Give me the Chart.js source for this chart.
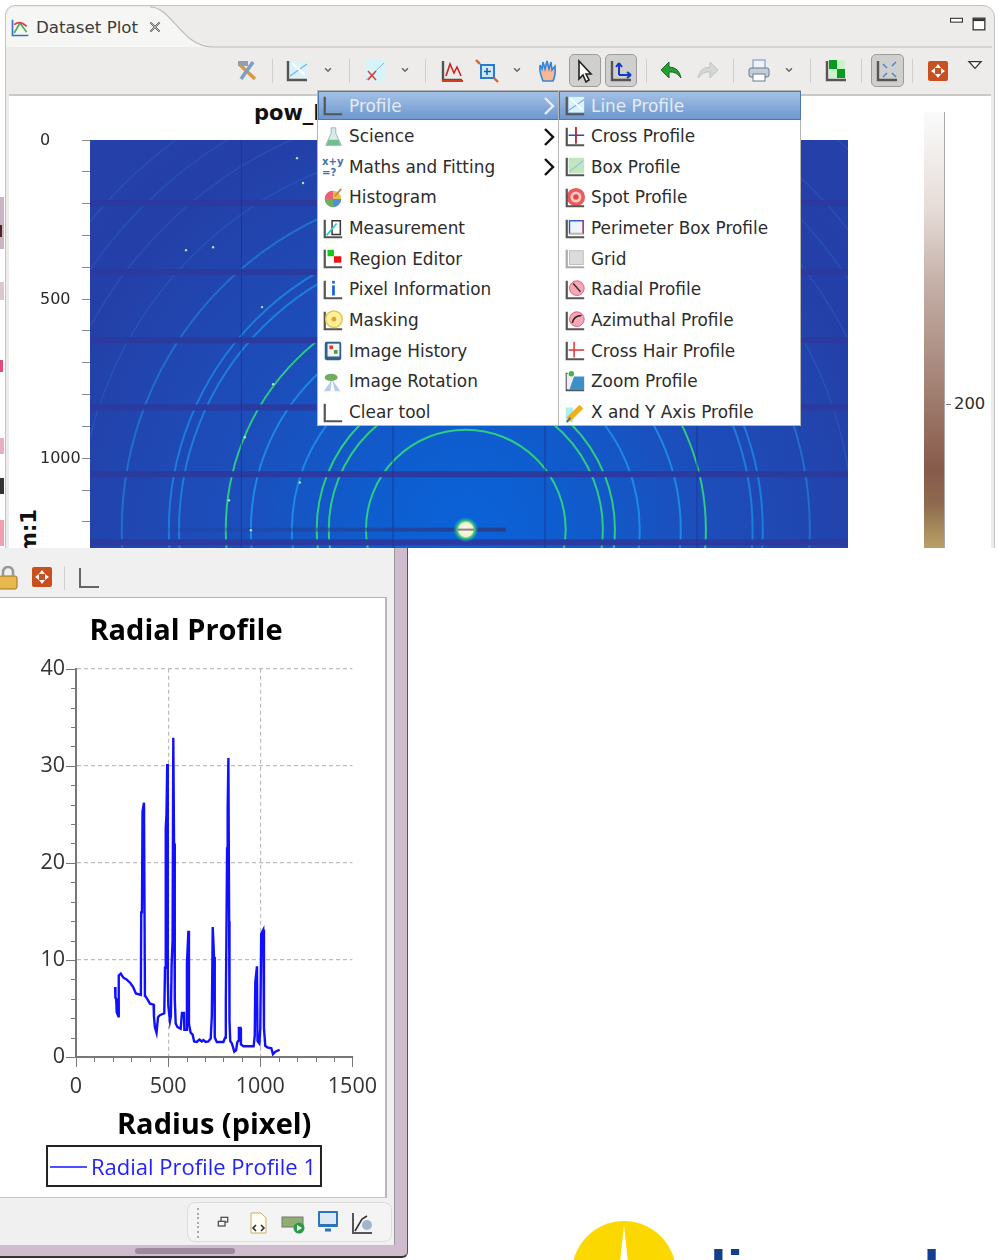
<!DOCTYPE html>
<html>
<head>
<meta charset="utf-8">
<title>Dataset Plot</title>
<script src="https://cdn.jsdelivr.net/npm/chart.js@4"></script>
<style>
html, body { margin: 0; padding: 0; background: #fff; }
#page { position: relative; width: 999px; height: 1260px; overflow: hidden; background: #fff; font-family: "DejaVu Sans", sans-serif; color: #2c2c2c; filter: blur(0.4px); }
#page div, #page svg, #page canvas, #page span { position: absolute; }
.txt { white-space: nowrap; line-height: 20px; font-size: 16.9px; }
#topWin { left: 0; top: 0; width: 999px; height: 548px; overflow: hidden; }
#frame { left: 5px; top: 5px; width: 988px; height: 600px; background: #edecea; border: 1px solid #c4c4c2; border-radius: 10px 12px 0 0; }
#plotBg { left: 9px; top: 94px; width: 982px; height: 470px; background: #fff; border-top: 2px solid #c9c8c5; }
#heatCanvasBox { left: 40px; top: 112px; width: 808px; height: 449px; }
#colorBar { left: 924px; top: 112px; width: 20px; height: 436px; border-right: 1px solid #aaa; box-sizing: content-box;
  background: linear-gradient(#fbfbfb 0%, #e6dcd8 22%, #c4aea6 40%, #a58376 62%, #875a4a 82%, #8f6a4e 90%, #a88c5e 96%, #bba065 100%); }
#menu { left: 317px; top: 90px; width: 484px; height: 336px; background: #fff; border: 1px solid #b5b5b5; box-sizing: border-box; }
.hl { top: 0; height: 29px; background: linear-gradient(#a4c1e6, #6e98ce); border: 1px solid #4f78ac; box-sizing: border-box; }
#botWin { left: 0; top: 548px; width: 408px; height: 710px; background: #cfbccf; border-right: 1px solid #555; border-bottom: 2px solid #333; border-radius: 0 0 6px 0; box-sizing: border-box; overflow: hidden; }
#botInner { left: -2px; top: 0; width: 396px; height: 697px; background: #f0f0f0; border-right: 1px solid #999; }
#botPlot { left: 0; top: 49px; width: 387px; height: 601px; background: #fff; border-top: 1px solid #b0b0b0; border-bottom: 1px solid #c8c8c8; border-right: 2px solid #b8b8b8; box-sizing: border-box; }
#statusBox { left: 187px; top: 654px; width: 205px; height: 40px; border: 1px solid #dcdcdc; border-radius: 8px; background: #f4f4f4; box-sizing: border-box; }
#radialBox { left: 5px; top: 597px; width: 389px; height: 598px; }
</style>
</head>
<body>
<div id="page">
  <div id="topWin">
    <div id="frame"></div>
    <svg style="left:0;top:0" width="999" height="100">
      <path d="M6 47V20Q6 7 18 7H150C172 7 182 47 212 47H6Z" fill="#f6f6f5" stroke="none"/>
      <path d="M150 7C172 7 182 47 212 47H992" fill="none" stroke="#bdbcb8" stroke-width="1.2"/>
    </svg>
    <div id="plotBg"></div>
    <div class="txt" style="left:36px;top:17px;color:#3c3c3c;font-size:16.7px">Dataset Plot</div>
    <div class="txt" style="left:254px;top:101px;font-weight:bold;font-size:21px;line-height:24px;color:#111">pow_M</div>
    <div class="txt" style="left:17px;top:510px;font-weight:bold;font-size:21px;line-height:24px;color:#111;transform-origin:0 0;transform:rotate(-90deg) translate(-44px,0)">m:1</div>
    <div id="heatCanvasBox"><canvas id="heatChart" width="808" height="449"></canvas></div>
    <div id="colorBar"></div>
    <div style="left:946px;top:404px;width:5px;height:1px;background:#777"></div>
    <div class="txt" style="left:954px;top:394px;font-size:16.4px">200</div>
    <div id="topIcons"></div>
    <div id="menu"></div>
    <div id="strip"></div>
  </div>
  <div id="botWin">
    <div id="botInner"></div>
    <div id="botPlot"></div>
    <div id="statusBox"></div>
    <div id="botIcons"></div>
    <div style="left:135px;top:700px;width:100px;height:6px;background:#9b8a9d;border-radius:3px"></div>
  </div>
  <div id="radialBox"><canvas id="radialChart" width="389" height="598"></canvas></div>
  <svg style="left:560px;top:1210px" width="130" height="50">
    <circle cx="64" cy="63" r="52" fill="#fbd900"/>
    <path d="M64 16L68 52H60Z" fill="#fff"/>
  </svg>
  <div style="left:690px;top:1242px;font:bold 60px/60px 'Liberation Sans',sans-serif;color:#123f8e">diamond</div>
</div>

<script>
// radial profile
const radius = [212,214,218,221,230,232,243,256,274,296,310,325,352,354,358,361,369,374,376,392,401,421,423,428,437,445,455,479,483,487,491,495,498,501,510,515,519,524,528,532,536,541,550,568,575,586,588,597,602,610,613,622,633,641,655,670,682,691,704,718,731,737,742,749,753,764,800,809,813,816,820,823,827,831,833,837,846,859,869,875,882,884,893,895,909,964,970,973,982,985,995,1000,1005,1016,1020,1027,1038,1060,1069,1082,1105];
const intensity = [7.2,6.1,6.0,4.6,4.2,8.4,8.6,8.2,8.0,7.6,7.2,6.55,6.4,14.9,15,25.3,26.2,6.3,6.3,5.8,5.5,5.4,4.2,3.1,2.5,4.1,4.3,4.5,9.2,23.6,25,30.2,8,5.3,3.7,4.2,9.6,12,32.9,22,6,3.45,3.1,2.9,4.55,4.55,2.8,2.8,9.6,13,3.4,2.5,2.3,1.6,1.55,1.8,1.6,1.75,1.55,1.6,1.9,4.2,13.4,10.3,2,1.55,1.55,2,5.4,12,21.5,25.5,30.8,14,3.7,1.65,1.4,0.55,0.7,1.5,1.7,3,3,1.3,1.1,1.1,2.2,7.7,9.35,1.65,1.4,2.9,12.7,13.1,3,1.15,1,0.9,0.3,0.55,0.75];
const seriesName = 'Radial Profile Profile 1';
const radialTitle = 'Radial Profile';
const radialXTitle = 'Radius (pixel)';

// detector image, all in detector pixels
const beamX = 1182;
const beamY = 1224;
const ringRadii = [314,431,469,547,676,755,902,934,1082,1217,1343,1437,1528,1695];
const ringColors = ['#2fd27c','#2fd27c','#2fd27c','#1f8bea','#1f8bea','#2fcf80','#1c7fe0','#1c7fe0','#2270d2','#2a66c8','#2a62c4','#2a62c4','#2a62c4','#2a5fc0'];
const gapRows = [198,415,629,840,1050,1264];
const seamCols = [476,953,1431,1909];
const spotX = [651,670,302,387,541,576,487,437,660,506];
const spotY = [57,135,346,337,525,767,934,1132,1076,1226];

const menuLeft = ['Profile','Science','Maths and Fitting','Histogram','Measurement','Region Editor','Pixel Information','Masking','Image History','Image Rotation','Clear tool'];
const menuRight = ['Line Profile','Cross Profile','Box Profile','Spot Profile','Perimeter Box Profile','Grid','Radial Profile','Azimuthal Profile','Cross Hair Profile','Zoom Profile','X and Y Axis Profile'];

// chrome icons, just rough little svgs
const L = '<path d="M3 2V21H22" fill="none" stroke="#555" stroke-width="2.4"/>';
function icon(parent, cx, cy, inner, size) {
  size = size || 24;
  const host = document.getElementById(parent);
  const s = document.createElementNS('http://www.w3.org/2000/svg', 'svg');
  s.setAttribute('width', size); s.setAttribute('height', size); s.setAttribute('viewBox', '0 0 24 24');
  s.style.left = (cx - size / 2) + 'px'; s.style.top = (cy - size / 2) + 'px';
  s.innerHTML = inner;
  host.appendChild(s);
}
function chev(parent, x, y) { icon(parent, x, y, '<path d="M7 9L12 14L17 9" fill="none" stroke="#666" stroke-width="2.6"/>', 14); }
function sep(parent, x, y) {
  const d = document.createElement('div');
  d.style.cssText = 'left:' + x + 'px;top:' + y + 'px;width:1px;height:24px;background:#cfcfcc';
  document.getElementById(parent).appendChild(d);
}
function pressed(x0, x1) {
  const d = document.createElement('div');
  d.style.cssText = 'left:' + x0 + 'px;top:54px;width:' + (x1 - x0) + 'px;height:33px;background:#cfcfcd;border:1px solid #9c9c9a;border-radius:5px;box-sizing:border-box';
  document.getElementById('topIcons').appendChild(d);
}
const lineIcon = L + '<rect x="5" y="2" width="17" height="17" fill="#d8f4fb"/><path d="M5 17L22 5" stroke="#8fa8e8" stroke-width="1.4"/><path d="M7 4L20 16" stroke="#fff" stroke-width="2"/>';
const crossIcon = L + '<path d="M13 1V19M5 10H22" stroke="#2848c8" stroke-width="1.6"/><path d="M13 1V19" stroke="#dd2222" stroke-width="1.8"/>';
const boxIcon = L + '<rect x="5" y="2" width="17" height="17" fill="#bfe6bf"/><path d="M6 17L21 5" stroke="#8fa8e8"/>';
const spotIcon = '<circle cx="13" cy="11" r="10" fill="#e85c5c"/><circle cx="13" cy="11" r="6" fill="#f8c8c8"/><circle cx="13" cy="11" r="3" fill="#e04848"/>' + L;
const perimIcon = L + '<rect x="6" y="3" width="15" height="14" fill="#eef4fb" stroke="#2b56c8" stroke-width="1.5"/><path d="M21 3V17" stroke="#dd3333" stroke-width="1.5"/><path d="M6 17H21" stroke="#e8b830" stroke-width="1.5"/>';
const gridIcon = '<path d="M3 2V21H22" fill="none" stroke="#aaa" stroke-width="2.4"/><rect x="6" y="3" width="15" height="15" fill="#dcdcdc" stroke="#bbb"/>';
const radialIcon = L + '<circle cx="14" cy="10" r="8" fill="#f7a8b8" stroke="#dd5577"/><path d="M10 5L18 14" stroke="#333" stroke-width="1.6"/>';
const azimIcon = L + '<circle cx="14" cy="10" r="8" fill="#f7a8b8" stroke="#dd5577"/><path d="M9 14Q11 6 19 6" fill="none" stroke="#222" stroke-width="1.8"/>';
const hairIcon = L + '<path d="M11 2V19M5 11H22" stroke="#dd3333" stroke-width="1.6"/>';
const zoomIcon = L + '<rect x="6" y="6" width="16" height="14" fill="#3e8ec8"/><path d="M3 3H12L6 20H3Z" fill="#eee"/><circle cx="8" cy="3" r="3" fill="#4caf50"/>';
const xyIcon = '<rect x="2" y="6" width="8" height="16" fill="#a8f0f4"/><path d="M5 19L19 5" stroke="#f0b020" stroke-width="6"/><path d="M3 22L7 17" stroke="#666" stroke-width="2"/>';
const axisOnly = L;
const flaskIcon = '<path d="M10 2H15V8L21 21H4L10 8Z" fill="#d8ecec" stroke="#99b0b0"/><path d="M7 15H18L20 21H5Z" fill="#6fc08c"/>';
const mathsIcon = '<text x="0" y="10" font-size="11" font-weight="bold" fill="#3f6fae" font-family="DejaVu Sans">x+y</text><text x="0" y="22" font-size="11" font-weight="bold" fill="#3f6fae" font-family="DejaVu Sans">=?</text>';
const histIcon = '<circle cx="12" cy="13" r="9" fill="#e8c040"/><path d="M12 13L3 13A9 9 0 0 1 12 4Z" fill="#e8607a"/><path d="M12 13L12 22A9 9 0 0 1 3 13Z" fill="#6ab060"/><path d="M12 13L21 13A9 9 0 0 1 12 22Z" fill="#5090d8"/><path d="M14 10L21 2" stroke="#b86" stroke-width="2"/>';
const measureIcon = L + '<rect x="11" y="3" width="9" height="15" fill="none" stroke="#333" stroke-width="1.6"/><path d="M5 19L16 6" stroke="#33cccc" stroke-width="2"/>';
const regionIcon = L + '<rect x="6" y="2" width="7" height="7" fill="#14c814"/><rect x="13" y="9" width="8" height="7" fill="#ee1111"/>';
const pixelIcon = L + '<rect x="11" y="2" width="3" height="3" fill="#1a66dd"/><rect x="11" y="7" width="3" height="11" fill="#1a66dd"/>';
const maskIcon = L + '<circle cx="13" cy="10" r="9" fill="#fdf0a0" stroke="#e8c840" stroke-width="1.6"/><circle cx="13" cy="10" r="2.6" fill="#e8a020"/>';
const histBookIcon = '<rect x="3" y="2" width="18" height="20" rx="2" fill="#2f5f8f"/><rect x="6" y="4" width="13" height="14" fill="#f4f4ee"/><rect x="8" y="6" width="4" height="4" fill="#d84040"/><rect x="13" y="11" width="4" height="4" fill="#40a050"/>';
const rotateIcon = '<path d="M2 22L11 9L20 22Z" fill="#b4cde8"/><path d="M9 22L11 9L14 22Z" fill="#fff"/><ellipse cx="10" cy="7" rx="7" ry="4" fill="#70ad60"/>';
const leftIcons = [axisOnly, flaskIcon, mathsIcon, histIcon, measureIcon, regionIcon, pixelIcon, maskIcon, histBookIcon, rotateIcon, axisOnly];
const rightIcons = [lineIcon, crossIcon, boxIcon, spotIcon, perimIcon, gridIcon, radialIcon, azimIcon, hairIcon, zoomIcon, xyIcon];

// tab and toolbar of the top view
icon('topIcons', 20, 28, '<path d="M3 2V21H22" fill="none" stroke="#3b6fc4" stroke-width="2"/><path d="M5 18L12 6L20 17" fill="none" stroke="#4caf50" stroke-width="2"/><path d="M5 8Q12 2 20 10" fill="none" stroke="#e04050" stroke-width="2"/>', 20);
icon('topIcons', 155, 27, '<path d="M5 5L19 19M19 5L5 19" stroke="#444" stroke-width="2.6"/><path d="M5 5L19 19M19 5L5 19" stroke="#eee" stroke-width="1"/>', 16);
icon('topIcons', 956, 20, '<rect x="1" y="8" width="22" height="7" fill="#fff" stroke="#333" stroke-width="2"/>', 13);
icon('topIcons', 979, 24, '<rect x="2" y="2" width="20" height="20" fill="#fff" stroke="#333" stroke-width="2.2"/><path d="M2 5H22" stroke="#333" stroke-width="4"/>', 14);
pressed(569, 601); pressed(605, 637); pressed(871, 904);
[272, 349, 425, 646, 733, 810, 861, 912].forEach(x => sep('topIcons', x, 59));
[328, 405, 517, 789].forEach(x => chev('topIcons', x, 70));
icon('topIcons', 247, 71, '<path d="M4 5L20 20" stroke="#d89a40" stroke-width="3.4"/><path d="M18 3L6 20" stroke="#7f9ec4" stroke-width="3.6"/><rect x="3" y="2" width="10" height="5" fill="#8fa0b4"/>');
icon('topIcons', 297, 71, lineIcon);
icon('topIcons', 375, 71, '<rect x="2" y="1" width="20" height="21" fill="#d8f4fb"/><path d="M3 21L21 4" stroke="#8fb0f0"/><path d="M5 12L13 21M13 12L5 21" stroke="#e04040" stroke-width="1.6"/>');
icon('topIcons', 452, 71, L + '<path d="M6 17L10 5L14 14L17 8L21 17" fill="none" stroke="#d02020" stroke-width="1.6"/><path d="M2 22H23" stroke="#d04020" stroke-width="2"/>');
icon('topIcons', 487, 71, '<rect x="6" y="6" width="13" height="13" fill="#cfe8fb" stroke="#2a7cc8" stroke-width="2"/><path d="M12 9V16M9 12.500H16" stroke="#1c5fa8" stroke-width="1.6"/><path d="M1 1L5 5" stroke="#e06020" stroke-width="2.4"/><path d="M19 19L23 23" stroke="#e06020" stroke-width="2.4"/>');
icon('topIcons', 549, 71, '<path d="M6 22Q2 12 3 8V6L5 10L6 3L8 10L10 2L12 10L14 3L15 11L18 7Q19 16 16 22Z" fill="#f7b892" stroke="#2e86de" stroke-width="1.6"/>');
icon('topIcons', 585, 71, '<path d="M6 2V20L10 16L13 23L16 21L13 15H18Z" fill="#fff" stroke="#222" stroke-width="1.6"/>');
icon('topIcons', 621, 71, L + '<path d="M10 16V4M10 4L7 8M10 4L13 8" fill="none" stroke="#1438c8" stroke-width="2"/><path d="M10 16H22M22 16L18 13M22 16L18 19" fill="none" stroke="#1438c8" stroke-width="2"/>');
icon('topIcons', 671, 71, '<path d="M2 11L10 3V8Q20 8 22 19Q17 12 10 13V19Z" fill="#23a030" stroke="#146c20"/>');
icon('topIcons', 708, 71, '<path d="M22 11L14 3V8Q4 8 2 19Q7 12 14 13V19Z" fill="#d4d8d4" stroke="#c0c4c0"/>');
icon('topIcons', 759, 71, '<rect x="6" y="1" width="12" height="9" fill="#eef3fa" stroke="#6f8fb8"/><rect x="2" y="9" width="20" height="9" rx="2" fill="#c4cedb" stroke="#6a7b90"/><rect x="6" y="15" width="12" height="7" fill="#fff" stroke="#6a7b90"/>');
icon('topIcons', 836, 71, L + '<rect x="5" y="1" width="8" height="9" fill="#0a9a20"/><rect x="13" y="10" width="8" height="9" fill="#0a9a20"/><rect x="13" y="1" width="8" height="9" fill="#c9f3c9"/><rect x="5" y="10" width="8" height="9" fill="#c9f3c9"/>');
icon('topIcons', 887, 71, L + '<path d="M8 5L12 9M21 3L17 7M8 18L12 14M21 18L17 14" stroke="#4a86d8" stroke-width="1.5"/>');
icon('topIcons', 938, 71, '<rect x="2" y="2" width="20" height="20" rx="2" fill="#c85020"/><path d="M12 5L15 9H9ZM12 19L15 15H9ZM5 12L9 9V15ZM19 12L15 9V15Z" fill="#fff"/>');
icon('topIcons', 975, 65, '<path d="M3 7H21L12 17Z" fill="#fff" stroke="#333" stroke-width="2"/>', 16);

// leftover bits of the window behind
[['0px', 197, 4, 52, '#c9b6c2'], ['0px', 225, 2, 12, '#552222'], ['0px', 282, 4, 18, '#d9c8d0'], ['0px', 360, 3, 12, '#e34a7a'], ['0px', 438, 4, 16, '#e8b0c4'], ['0px', 478, 4, 16, '#333'], ['0px', 520, 4, 26, '#f0a0b0']].forEach(b => {
  const d = document.createElement('div');
  d.style.cssText = 'left:' + b[0] + ';top:' + b[1] + 'px;width:' + b[2] + 'px;height:' + b[3] + 'px;background:' + b[4];
  document.getElementById('topWin').appendChild(d);
});

// popup menu
const menu = document.getElementById('menu');
['0px;width:242px', '241px;width:242px'].forEach(s => {
  const h = document.createElement('div');
  h.className = 'hl';
  h.style.cssText = 'left:' + s;
  menu.appendChild(h);
});
const sepLine = document.createElement('div');
sepLine.style.cssText = 'left:240px;top:0;width:1px;height:335px;background:#b5b5b5';
menu.appendChild(sepLine);
const rowH = 30.65;
function addItem(text, x, i) {
  const d = document.createElement('div');
  d.className = 'txt';
  d.textContent = text;
  d.style.cssText = 'left:' + x + 'px;top:' + (4.5 + i * rowH) + 'px;' + (i === 0 ? 'color:#e3ebf6' : '');
  menu.appendChild(d);
}
function menuIcon(cx, i, inner) {
  const s = document.createElementNS('http://www.w3.org/2000/svg', 'svg');
  s.setAttribute('width', 22); s.setAttribute('height', 22); s.setAttribute('viewBox', '0 0 24 24');
  s.style.left = (cx - 11) + 'px'; s.style.top = (4 + i * rowH) + 'px';
  s.innerHTML = inner;
  menu.appendChild(s);
}
menuLeft.forEach((t, i) => { addItem(t, 31, i); menuIcon(15, i, leftIcons[i]); });
menuRight.forEach((t, i) => { addItem(t, 273, i); menuIcon(257, i, rightIcons[i]); });
[0, 1, 2].forEach(i => {
  const s = document.createElementNS('http://www.w3.org/2000/svg', 'svg');
  s.setAttribute('width', 14); s.setAttribute('height', 20);
  s.style.left = '224px'; s.style.top = (5 + i * rowH) + 'px';
  s.innerHTML = '<path d="M3 2L11 10L3 18" fill="none" stroke="' + (i === 0 ? '#e8eef8' : '#111') + '" stroke-width="2.4"/>';
  menu.appendChild(s);
});

// lower view chrome
icon('botIcons', 8, 30, '<rect x="3" y="10" width="18" height="13" rx="2" fill="#e8b84c" stroke="#98752c"/><path d="M7 10V6A5 5 0 0 1 17 6V10" fill="none" stroke="#999" stroke-width="2.6"/>');
icon('botIcons', 42, 29, '<rect x="2" y="2" width="20" height="20" rx="2" fill="#c85020"/><path d="M12 5L15 9H9ZM12 19L15 15H9ZM5 12L9 9V15ZM19 12L15 9V15Z" fill="#fff"/>');
sep('botIcons', 64, 18);
icon('botIcons', 89, 30, '<path d="M3 2V21H22" fill="none" stroke="#666" stroke-width="2"/>');
icon('botIcons', 223, 674, '<rect x="9" y="5" width="10" height="7" fill="none" stroke="#555" stroke-width="2"/><rect x="5" y="11" width="10" height="7" fill="#f4f4f4" stroke="#555" stroke-width="2"/>', 16);
icon('botIcons', 258, 675, '<path d="M5 2H15L20 7V22H5Z" fill="#fdfdf5" stroke="#c8b060"/><path d="M10 14L7 17L10 20M15 14L18 17L15 20" fill="none" stroke="#333" stroke-width="1.6"/>');
icon('botIcons', 293, 675, '<rect x="1" y="6" width="21" height="10" fill="#8fae70" stroke="#777"/><circle cx="18" cy="17" r="5.500" fill="#2d9a44"/><path d="M16 14L21 17L16 20Z" fill="#fff"/>');
icon('botIcons', 328, 673, '<rect x="2" y="2" width="20" height="16" rx="1" fill="#2c74b8"/><rect x="4" y="4" width="16" height="11" fill="#dbe9f6"/><path d="M9 21H15" stroke="#2c74b8" stroke-width="3"/>');
icon('botIcons', 362, 675, '<path d="M3 2V22H22" fill="none" stroke="#555" stroke-width="2"/><path d="M5 20L12 8L17 5" fill="none" stroke="#333" stroke-width="1.6"/><circle cx="17" cy="14" r="5" fill="#9fb5d0"/>');
for (let i = 0; i < 7; i++) {
  const d = document.createElement('div');
  d.style.cssText = 'left:197px;top:' + (660 + i * 4.6) + 'px;width:2px;height:2px;background:#aaa';
  document.getElementById('botIcons').appendChild(d);
}

// --- detector image ---
const detectorImage = {
  id: 'detectorImage',
  beforeDatasetsDraw(chart) {
    const { ctx, chartArea: a, scales: { x, y } } = chart;
    const bx = x.getPixelForValue(beamX), by = y.getPixelForValue(beamY);
    const perUnit = x.getPixelForValue(1) - x.getPixelForValue(0);
    ctx.save();
    ctx.beginPath(); ctx.rect(a.left, a.top, a.width, a.height); ctx.clip();
    const bg = ctx.createRadialGradient(bx, by, 0, bx, by, 1650 * perUnit);
    bg.addColorStop(0, '#0a63d8'); bg.addColorStop(0.2, '#0f5ccd'); bg.addColorStop(0.45, '#1c4ebb'); bg.addColorStop(0.8, '#2440a8'); bg.addColorStop(1, '#2540a8');
    ctx.fillStyle = bg;
    ctx.fillRect(a.left, a.top, a.width, a.height);
    ringRadii.forEach((r, i) => {
      ctx.beginPath();
      ctx.arc(bx, by, r * perUnit, 0, Math.PI * 2);
      ctx.strokeStyle = ringColors[i];
      ctx.lineWidth = i < 9 ? 2 : 1.3;
      ctx.globalAlpha = i < 9 ? 0.95 : 0.5;
      ctx.stroke();
    });
    ctx.globalAlpha = 1;
    ctx.fillStyle = '#2b3a9e';
    gapRows.forEach(v => { ctx.fillRect(a.left, y.getPixelForValue(v) - 3, a.width, 6); });
    ctx.fillStyle = 'rgba(30,50,140,0.8)';
    seamCols.forEach(v => { ctx.fillRect(x.getPixelForValue(v) - 0.5, a.top, 1, a.height); });
    // beam stop streak and direct beam
    const st = ctx.createLinearGradient(a.left + 70, 0, bx + 40, 0);
    st.addColorStop(0, 'rgba(35,60,150,0.2)'); st.addColorStop(1, 'rgba(40,60,130,0.9)');
    ctx.fillStyle = st;
    ctx.fillRect(a.left + 70, by - 2, bx + 40 - a.left - 70, 4);
    const glow = ctx.createRadialGradient(bx, by, 2, bx, by, 13);
    glow.addColorStop(0, '#fff8e8'); glow.addColorStop(0.45, '#f4f0d0'); glow.addColorStop(0.6, '#40d070'); glow.addColorStop(1, 'rgba(20,130,220,0)');
    ctx.fillStyle = glow;
    ctx.beginPath(); ctx.arc(bx, by, 13, 0, Math.PI * 2); ctx.fill();
    ctx.fillStyle = 'rgba(90,80,90,0.7)';
    ctx.fillRect(bx - 8, by - 1, 16, 2);
    ctx.restore();
  }
};

new Chart(document.getElementById('heatChart'), {
  type: 'scatter',
  data: {
    datasets: [{
      label: 'spots',
      data: spotX.map((v, i) => ({ x: v, y: spotY[i] })),
      pointRadius: 1.2,
      pointBackgroundColor: '#a8f0b0',
      pointBorderWidth: 0
    }]
  },
  plugins: [detectorImage],
  options: {
    responsive: false,
    animation: false,
    layout: { autoPadding: false, padding: { top: 28 } },
    plugins: { legend: { display: false }, tooltip: { enabled: false } },
    scales: {
      x: { display: false, min: 0, max: 2384, grid: { display: false } },
      y: {
        reverse: true, min: 0, max: 1283,
        afterFit: s => { s.width = 50; },
        border: { display: false },
        grid: { drawOnChartArea: false, tickLength: 8, tickColor: '#8a8a8a' },
        ticks: {
          stepSize: 100, autoSkip: false, crossAlign: 'far', color: '#2a2a2a', labelOffset: 1,
          font: { family: 'DejaVu Sans', size: 16 },
          callback: v => (v % 500 === 0 ? String(v) : '')
        }
      }
    }
  }
});

// --- radial profile ---
const tickMarks = {
  id: 'tickMarks',
  afterLayout(chart) {
    // legend frame sits a little left of the title centre
    const lg = chart.legend;
    lg.left -= 3; lg.right -= 3;
    lg.legendHitBoxes[0].left -= 3;
  },
  afterDraw(chart) {
    const { ctx, scales: { x, y } } = chart;
    ctx.save();
    ctx.strokeStyle = '#777';
    ctx.lineWidth = 1;
    x.ticks.forEach(t => {
      const px = Math.round(x.getPixelForValue(t.value)) + 0.5;
      const len = t.value % 500 === 0 ? 10 : 5;
      ctx.beginPath(); ctx.moveTo(px, y.bottom); ctx.lineTo(px, y.bottom + len); ctx.stroke();
    });
    y.ticks.forEach(t => {
      const py = Math.round(y.getPixelForValue(t.value)) + 0.5;
      const len = t.value % 10 === 0 ? 10 : 5;
      ctx.beginPath(); ctx.moveTo(x.left, py); ctx.lineTo(x.left - len, py); ctx.stroke();
    });
    // legend frame and its line sample
    const hit = chart.legend.legendHitBoxes[0];
    const fontSize = chart.options.plugins.legend.labels.font.size;
    const lx = hit.left - 3, ty = hit.top - 12;
    ctx.strokeStyle = '#222';
    ctx.lineWidth = 2;
    ctx.strokeRect(lx, ty, hit.width + 8, 40);
    ctx.strokeStyle = '#1414ff';
    ctx.lineWidth = 1.6;
    ctx.beginPath();
    ctx.moveTo(lx + 3, ty + 21);
    ctx.lineTo(hit.left + 30 + fontSize / 2 - 4, ty + 21);
    ctx.stroke();
    ctx.restore();
  }
};

new Chart(document.getElementById('radialChart'), {
  type: 'scatter',
  data: {
    datasets: [{
      label: seriesName,
      data: radius.map((r, i) => ({ x: r, y: intensity[i] })),
      showLine: true,
      borderColor: '#1010ff',
      borderWidth: 2.4,
      pointRadius: 0,
      tension: 0
    }]
  },
  plugins: [tickMarks],
  options: {
    responsive: false,
    animation: false,
    layout: { autoPadding: false, padding: { right: 27, bottom: 5 } },
    plugins: {
      tooltip: { enabled: false },
      title: {
        display: true, text: radialTitle, color: '#000',
        font: { family: 'Open Sans', size: 29, weight: 'bold' },
        padding: { top: 17, bottom: 20 }
      },
      legend: {
        position: 'bottom',
        labels: {
          color: '#2222ff',
          font: { family: 'Open Sans', size: 22 },
          padding: 8,
          usePointStyle: true,
          pointStyleWidth: 30,
          generateLabels: chart => [{
            text: seriesName, fontColor: '#2222ff', strokeStyle: 'rgba(0,0,0,0)', lineWidth: 0, pointStyle: 'line', datasetIndex: 0
          }]
        }
      }
    },
    scales: {
      x: {
        type: 'linear', min: 0, max: 1500,
        afterFit: s => { s.height = 93; },
        border: { color: '#777', width: 2, dash: [4, 3] },
        grid: {
          drawTicks: false,
          lineWidth: 1.2,
          color: c => (c.tick.value === 500 || c.tick.value === 1000 ? '#bdbdbd' : 'rgba(0,0,0,0)')
        },
        ticks: {
          stepSize: 100, autoSkip: false, maxRotation: 0, padding: 17, color: '#333',
          font: { family: 'Open Sans', size: 21.5 },
          callback: v => (v % 500 === 0 ? String(v) : '')
        },
        title: {
          display: true, text: radialXTitle, color: '#000',
          font: { family: 'Open Sans', size: 29, weight: 'bold' },
          padding: { top: 4, bottom: 7 }
        }
      },
      y: {
        min: 0, max: 40,
        afterFit: s => { s.width = 71; },
        border: { color: '#777', width: 2, dash: [4, 3] },
        grid: {
          drawTicks: false,
          lineWidth: 1.2,
          color: c => (c.tick.value % 10 === 0 && c.tick.value > 0 ? '#bdbdbd' : 'rgba(0,0,0,0)')
        },
        ticks: {
          stepSize: 2, autoSkip: false, padding: 11, color: '#333',
          font: { family: 'Open Sans', size: 21.5 },
          callback: v => (v % 10 === 0 ? String(v) : '')
        }
      }
    }
  }
});
</script>
</body>
</html>
